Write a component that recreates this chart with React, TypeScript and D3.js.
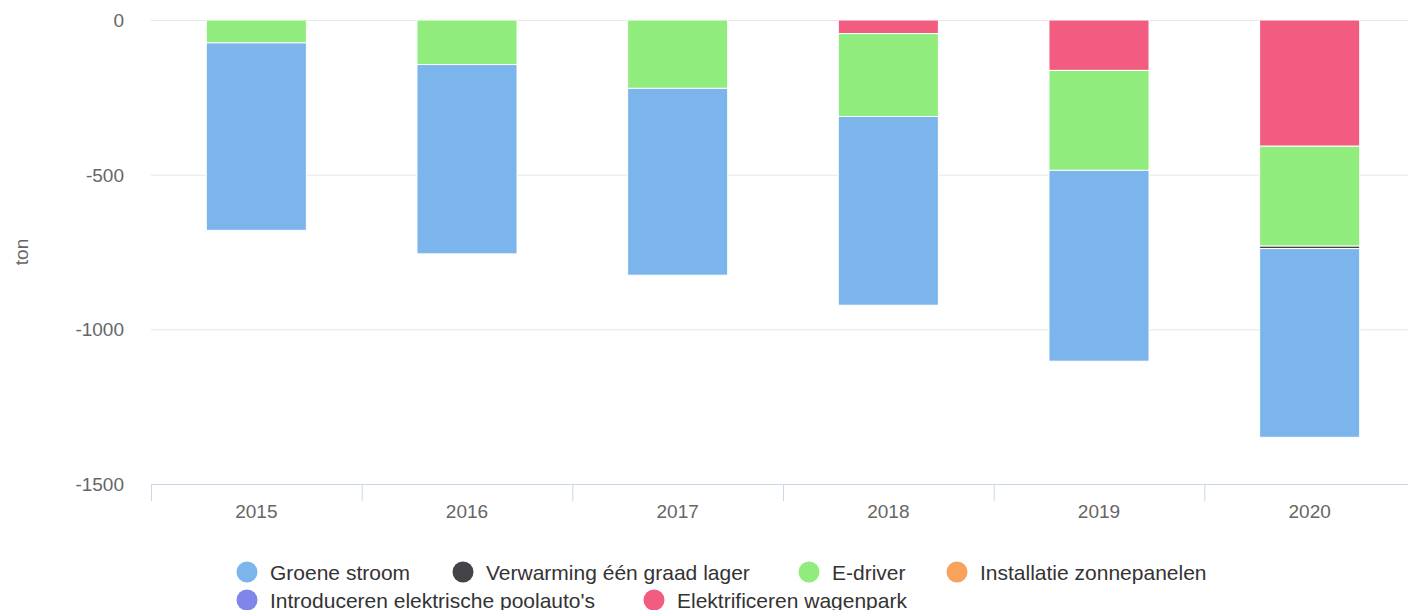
import React, { useEffect, useRef } from 'react'
import * as d3 from 'd3'

const years = ['2015', '2016', '2017', '2018', '2019', '2020']
const seriesNames = [
  'Groene stroom',
  'Verwarming één graad lager',
  'E-driver',
  'Installatie zonnepanelen',
  "Introduceren elektrische poolauto's",
  'Elektrificeren wagenpark',
]
const groeneStroom = [-606, -612, -604, -610, -617, -610]
const verwarming = [0, 0, 0, 0, 0, -8]
const eDriver = [-74, -144, -221, -268, -323, -323]
const zonnepanelen = [0, 0, 0, 0, 0, 0]
const poolautos = [0, 0, 0, 0, 0, 0]
const wagenpark = [0, 0, 0, -44, -163, -408]
const yTicks = [0, -500, -1000, -1500]

const colors = ['#7cb5ec', '#434348', '#90ed7d', '#f7a35c', '#8085e9', '#f15c80']

function App() {
  const ref = useRef<SVGSVGElement>(null)

  useEffect(() => {
    const svg = d3.select(ref.current)
    svg.selectAll('*').remove()
    const width = 1408
    const height = 610
    const left = 151
    const right = 1415
    const top = 20
    const bottom = 484
    const font = 'Liberation Sans, Arial, sans-serif'

    svg.attr('width', width).attr('height', height)

    const x = d3.scaleBand().domain(years).range([left, right]).padding(0)
    const y = d3.scaleLinear().domain([-1500, 0]).range([bottom, top])

    // grid
    svg
      .append('g')
      .selectAll('line')
      .data(yTicks.filter(t => t !== -1500))
      .enter()
      .append('line')
      .attr('x1', left)
      .attr('x2', width)
      .attr('y1', d => y(d) + 0.5)
      .attr('y2', d => y(d) + 0.5)
      .attr('stroke', '#e6e6e6')

    // y labels
    svg
      .append('g')
      .selectAll('text')
      .data(yTicks)
      .enter()
      .append('text')
      .attr('x', 124)
      .attr('y', d => y(d) + 7)
      .attr('text-anchor', 'end')
      .attr('font-family', font)
      .attr('font-size', 19)
      .attr('fill', '#666666')
      .text(d => String(d))

    svg
      .append('text')
      .attr('transform', `translate(28, 252) rotate(-90)`)
      .attr('text-anchor', 'middle')
      .attr('font-family', font)
      .attr('font-size', 19)
      .attr('fill', '#666666')
      .text('ton')

    // stacks
    const values = [groeneStroom, verwarming, eDriver, zonnepanelen, poolautos, wagenpark]
    const barWidth = x.bandwidth() * 0.475
    const bars = svg.append('g')
    years.forEach((yr, i) => {
      let acc = 0
      // last series sits closest to zero
      for (let s = values.length - 1; s >= 0; s--) {
        const v = values[s][i]
        if (v === 0) continue
        const y0 = y(acc)
        const y1 = y(acc + v)
        acc += v
        bars
          .append('rect')
          .attr('x', (x(yr) as number) + (x.bandwidth() - barWidth) / 2)
          .attr('width', barWidth)
          .attr('y', y0)
          .attr('height', y1 - y0)
          .attr('fill', colors[s])
          .attr('stroke', '#ffffff')
          .attr('stroke-width', 1)
      }
    })

    // x axis
    svg
      .append('line')
      .attr('x1', left)
      .attr('x2', width)
      .attr('y1', bottom + 0.5)
      .attr('y2', bottom + 0.5)
      .attr('stroke', '#ccd6eb')
    svg
      .append('g')
      .selectAll('line')
      .data(years)
      .enter()
      .append('line')
      .attr('x1', d => (x(d) as number) + 0.5)
      .attr('x2', d => (x(d) as number) + 0.5)
      .attr('y1', bottom)
      .attr('y2', bottom + 17)
      .attr('stroke', '#ccd6eb')
    svg
      .append('g')
      .selectAll('text')
      .data(years)
      .enter()
      .append('text')
      .attr('x', d => (x(d) as number) + x.bandwidth() / 2)
      .attr('y', 518)
      .attr('text-anchor', 'middle')
      .attr('font-family', font)
      .attr('font-size', 19)
      .attr('fill', '#666666')
      .text(d => d)

    // legend
    const legendPos = [
      [247, 572],
      [463, 572],
      [809, 572],
      [957, 572],
      [247, 600],
      [654, 600],
    ]
    const legend = svg
      .append('g')
      .selectAll('g')
      .data(seriesNames)
      .enter()
      .append('g')
      .attr('transform', (d, i) => `translate(${legendPos[i][0]}, ${legendPos[i][1]})`)
    legend
      .append('circle')
      .attr('r', 10.5)
      .attr('fill', (d, i) => colors[i])
    legend
      .append('text')
      .attr('x', 23)
      .attr('y', 7.5)
      .attr('font-family', font)
      .attr('font-size', 21)
      .attr('fill', '#333333')
      .text(d => d)
  }, [])

  return (
    <div style={{ position: 'absolute', left: 0, top: 0, width: 1408, height: 610, overflow: 'hidden', background: '#fff' }}>
      <svg ref={ref}></svg>
    </div>
  )
}

export default App
